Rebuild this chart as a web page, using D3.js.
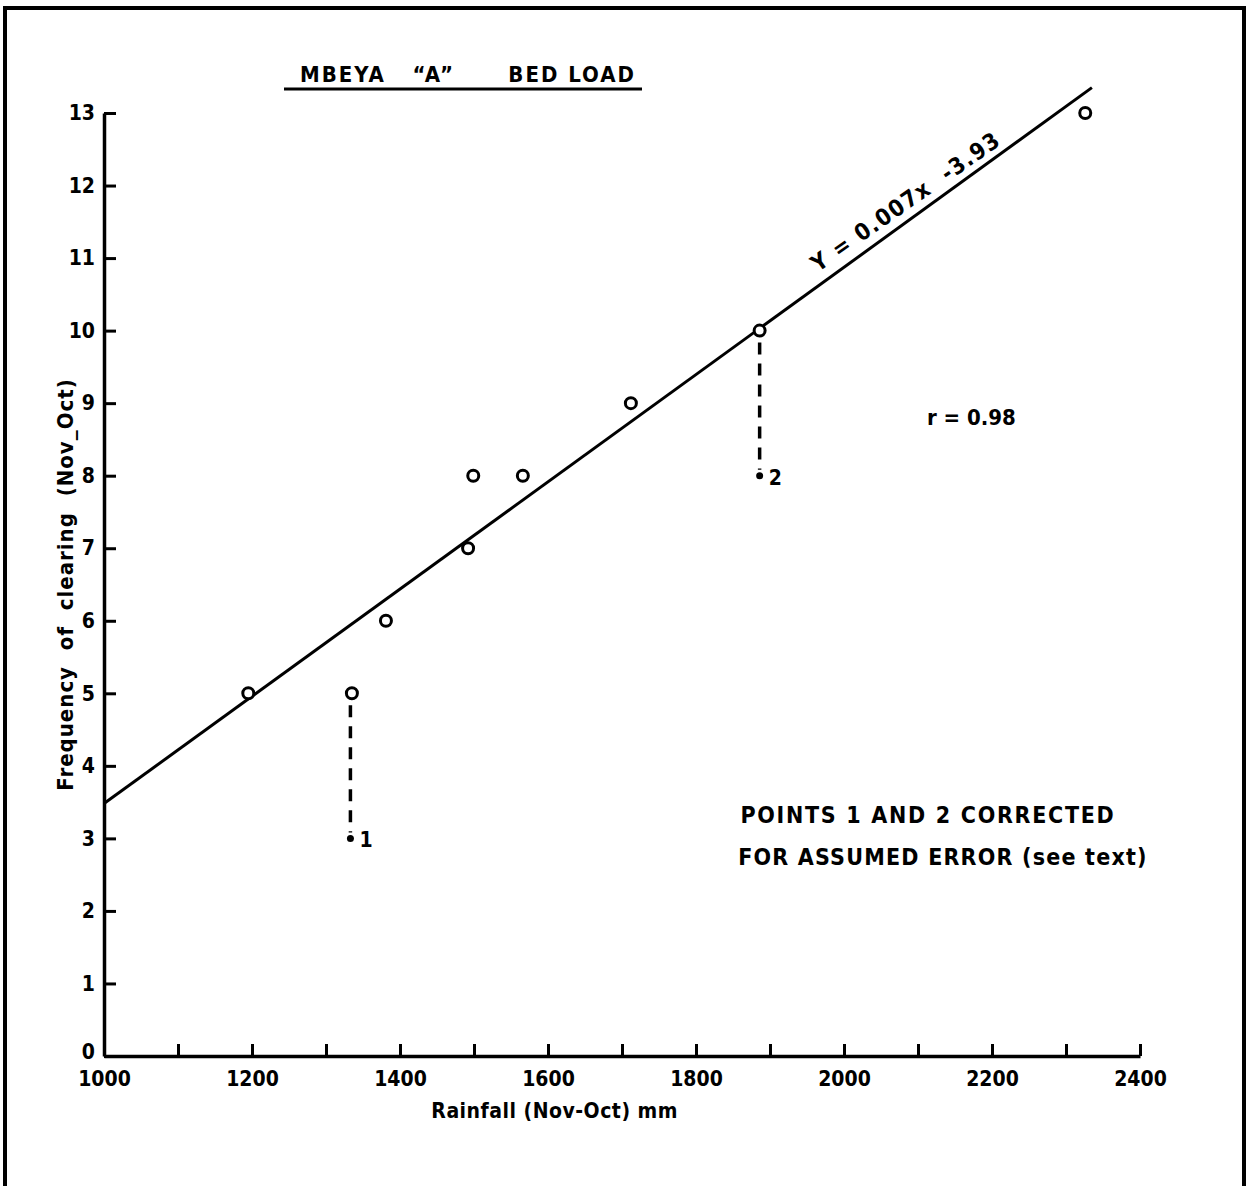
<html>
  <head>
    <script src="https://d3js.org/d3.v7.min.js"></script>
    <style>
      body { margin: 0; background: #fff; }
      svg text {
        fill: #000;
        font-family: "DejaVu Sans Condensed", "DejaVu Sans", sans-serif;
        font-weight: bold;
      }
    </style>
  </head>
  <body>
    <svg width="1250" height="1186"></svg>
    <script>
      // observed points (rainfall mm, clearings per year)
      var rainfall = [1195, 1335, 1381, 1492, 1499, 1566, 1712, 1886, 2326];
      var clearings = [5, 5, 6, 7, 8, 8, 9, 10, 13];

      // points 1 and 2 after correction
      var corrRain = [1333, 1886];
      var corrFrom = [5, 10];
      var corrTo = [3, 8];
      var corrName = ["1", "2"];

      // fitted line ends
      var fitX = [1000, 2335];
      var fitY = [3.48, 13.35];

      var xTicks = [1000, 1100, 1200, 1300, 1400, 1500, 1600, 1700, 1800, 1900, 2000, 2100, 2200, 2300, 2400];
      var xTickLabels = ["1000", "", "1200", "", "1400", "", "1600", "", "1800", "", "2000", "", "2200", "", "2400"];
      var yTicks = [0, 1, 2, 3, 4, 5, 6, 7, 8, 9, 10, 11, 12, 13];

      var svg = d3.select("svg");

      // frame of the scanned page
      svg.append("rect")
        .attr("x", 5).attr("y", 8)
        .attr("width", 1239).attr("height", 1200)
        .attr("fill", "none")
        .attr("stroke", "#000")
        .attr("stroke-width", 4);

      var x = d3.scaleLinear().domain([1000, 2400]).range([104, 1140]);
      var y = d3.scaleLinear().domain([0, 13]).range([1056, 113]);

      var yAxis = svg.append("g")
        .attr("transform", "translate(" + x(1000) + ",0)")
        .call(d3.axisLeft(y).tickValues(yTicks).tickSize(-12).tickPadding(9).tickSizeOuter(0));

      var xAxis = svg.append("g")
        .attr("transform", "translate(0," + y(0) + ")")
        .call(d3.axisBottom(x).tickValues(xTicks)
          .tickFormat(function (d, i) { return xTickLabels[i]; })
          .tickSize(-12).tickPadding(8).tickSizeOuter(0));

      [xAxis, yAxis].forEach(function (a) {
        a.select(".domain").attr("stroke-width", 3.5);
        a.selectAll(".tick line").attr("stroke-width", 3);
        a.selectAll(".tick text").attr("font-size", 21);
      });
      xAxis.selectAll(".tick text").attr("dy", "1.05em");
      yAxis.selectAll(".tick text").filter(function (d) { return d === 0; }).attr("dy", "0.1em");

      // regression line
      svg.append("line")
        .attr("x1", x(fitX[0])).attr("y1", y(fitY[0]))
        .attr("x2", x(fitX[1])).attr("y2", y(fitY[1]))
        .attr("stroke", "#000").attr("stroke-width", 3);

      // dashed corrections
      svg.selectAll(".corr")
        .data(corrRain)
        .enter()
        .append("line")
        .attr("class", "corr")
        .attr("x1", function (d) { return x(d); })
        .attr("x2", function (d) { return x(d); })
        .attr("y1", function (d, i) { return y(corrFrom[i]) + 12; })
        .attr("y2", function (d, i) { return y(corrTo[i]) - 6; })
        .attr("stroke", "#000")
        .attr("stroke-width", 3.5)
        .attr("stroke-dasharray", "12,9");

      svg.selectAll(".cdot")
        .data(corrRain)
        .enter()
        .append("circle")
        .attr("class", "cdot")
        .attr("cx", function (d) { return x(d); })
        .attr("cy", function (d, i) { return y(corrTo[i]); })
        .attr("r", 3.5)
        .attr("fill", "#000");

      svg.selectAll(".clab")
        .data(corrRain)
        .enter()
        .append("text")
        .attr("class", "clab")
        .attr("x", function (d) { return x(d) + 9; })
        .attr("y", function (d, i) { return y(corrTo[i]) + 9; })
        .attr("font-size", 21)
        .text(function (d, i) { return corrName[i]; });

      // observed points
      svg.selectAll(".pt")
        .data(rainfall)
        .enter()
        .append("circle")
        .attr("class", "pt")
        .attr("cx", function (d) { return x(d); })
        .attr("cy", function (d, i) { return y(clearings[i]); })
        .attr("r", 5.5)
        .attr("fill", "#fff")
        .attr("stroke", "#000")
        .attr("stroke-width", 3);

      // title
      svg.append("text")
        .attr("x", 300).attr("y", 82)
        .attr("font-size", 22)
        .attr("xml:space", "preserve")
        .attr("letter-spacing", 2)
        .text("MBEYA   \u201CA\u201D      BED LOAD");
      svg.append("line")
        .attr("x1", 284).attr("x2", 642)
        .attr("y1", 89).attr("y2", 89)
        .attr("stroke", "#000").attr("stroke-width", 3);

      // axis titles
      svg.append("text")
        .attr("transform", "translate(73," + y(6.5) + ") rotate(-90)")
        .attr("text-anchor", "middle")
        .attr("font-size", 22)
        .attr("xml:space", "preserve")
        .attr("letter-spacing", 1)
        .text("Frequency  of  clearing  (Nov_Oct)");

      svg.append("text")
        .attr("x", x(1609)).attr("y", 1118)
        .attr("text-anchor", "middle")
        .attr("font-size", 21)
        .attr("letter-spacing", 0.5)
        .text("Rainfall (Nov-Oct) mm");

      // equation along the line
      svg.append("text")
        .attr("transform", "translate(" + x(1965) + "," + y(10.8) + ") rotate(-35)")
        .attr("font-size", 23)
        .attr("xml:space", "preserve")
        .attr("letter-spacing", 1.5)
        .text("Y = 0.007x  -3.93");

      svg.append("text")
        .attr("x", x(2112)).attr("y", y(8.7))
        .attr("font-size", 22)
        .attr("xml:space", "preserve")
        .text("r = 0.98");

      svg.append("text")
        .attr("x", x(1860)).attr("y", y(3.21))
        .attr("font-size", 23)
        .attr("letter-spacing", 1.7)
        .text("POINTS 1 AND 2 CORRECTED");
      svg.append("text")
        .attr("x", x(1857)).attr("y", y(2.63))
        .attr("font-size", 23)
        .attr("letter-spacing", 1.2)
        .text("FOR ASSUMED ERROR (see text)");
    </script>
  </body>
</html>
